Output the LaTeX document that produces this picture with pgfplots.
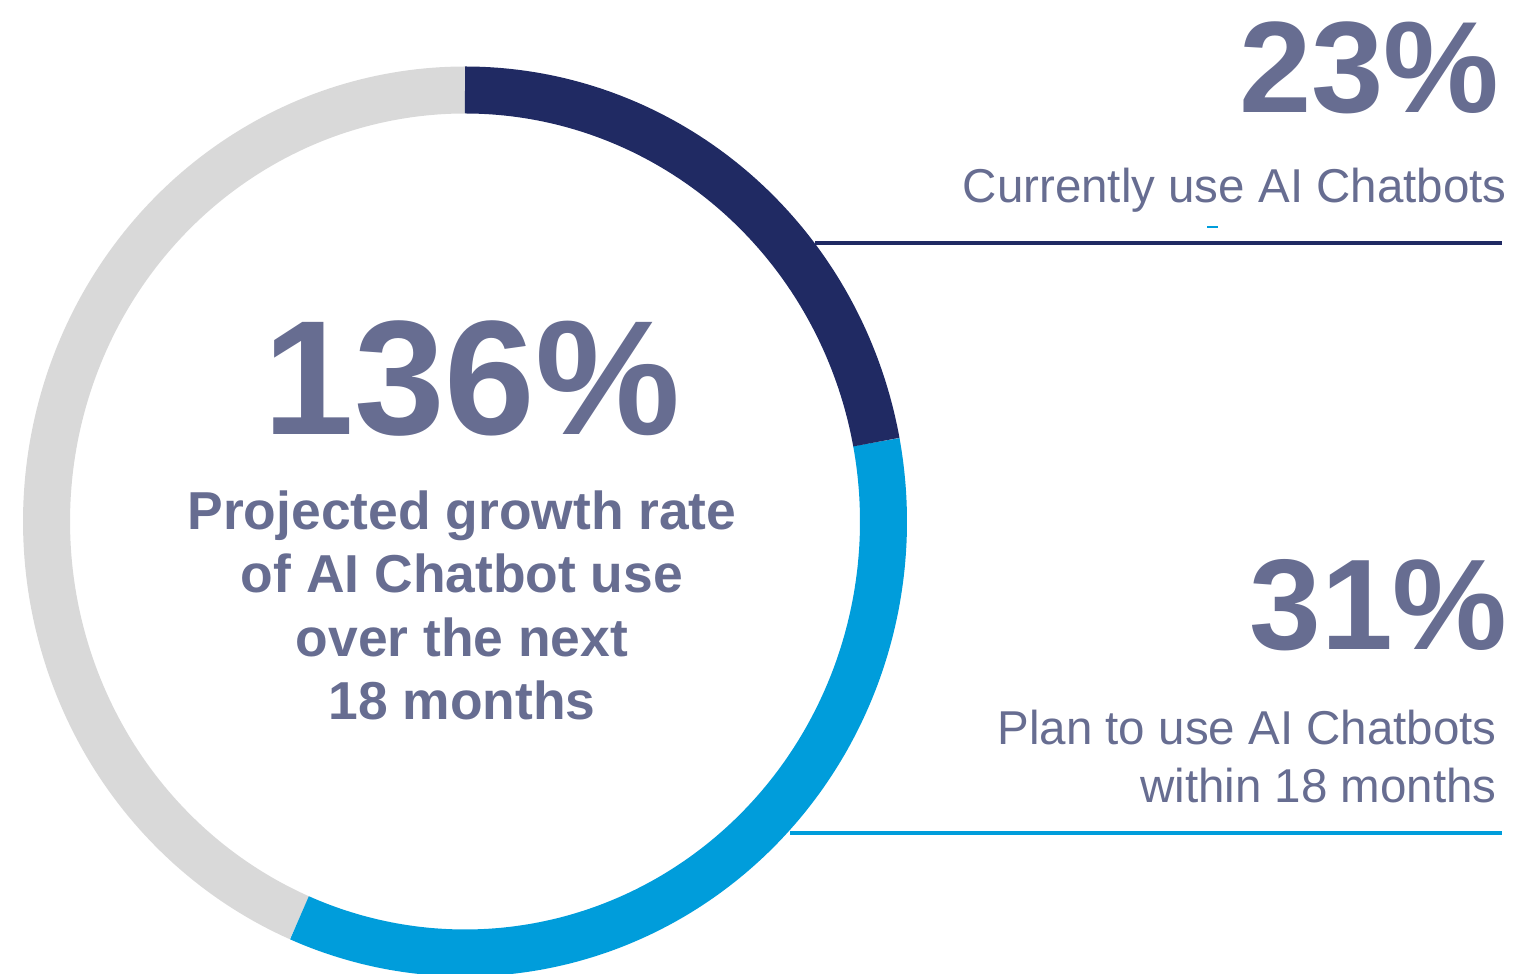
\documentclass[border=0pt]{standalone}
\usepackage{fontspec}
\setmainfont{Liberation Sans}
\usepackage{pgfplots}
\pgfplotsset{compat=1.18}
\definecolor{txt}{RGB}{103,109,145}
\definecolor{navy}{RGB}{32,42,99}
\definecolor{sky}{RGB}{0,157,219}
\definecolor{ringgray}{RGB}{217,217,217}
% position in reference pixels (x right, y down), 1 px = 0.5 pt
\newcommand{\px}[2]{({(#1)*0.5pt},{(973-(#2))*0.5pt})}
\begin{document}
\begin{tikzpicture}
\begin{scope}
\clip (0pt,0pt) rectangle (759pt,486.5pt);
% ring segments: start/end angles (deg, counter-clockwise from east)
% Currently use AI Chatbots: 90 -> 10.6 ; Plan to use: 10.6 -> -113.3 ; rest: -113.3 -> -270
% ring centre at pixel (465, 521.5) = (232.5pt, 225.75pt)
\begin{axis}[at={(232.5pt,225.75pt)}, anchor=origin, hide axis,
  x=209.25pt, y=215.75pt, xmin=-1.2, xmax=1.2, ymin=-1.2, ymax=1.2,
  clip=false, samples=150, variable=\t]
\addplot[ringgray, line width=23.5pt, domain=-113.3:-270] ({cos(t)},{sin(t)});
\addplot[sky, line width=23.5pt, domain=10.6:-113.3] ({cos(t)},{sin(t)});
\addplot[navy, line width=23.5pt, domain=90:10.6] ({cos(t)},{sin(t)});
\end{axis}
\end{scope}
% right-hand statistics
\node[anchor=base east, inner sep=0, text=txt, font=\fontsize{65pt}{78pt}\selectfont\bfseries] at \px{1500}{113} {23\%};
\node[anchor=base east, inner sep=0, text=txt, font=\fontsize{23.75pt}{29pt}\selectfont] at \px{1507}{203} {Currently use AI Chatbots};
\draw[navy, line width=1.75pt] \px{815}{243} -- \px{1502}{243};
\draw[sky, line width=1pt] \px{1207}{227} -- \px{1218}{227};
\node[anchor=base east, inner sep=0, text=txt, font=\fontsize{64.5pt}{78pt}\selectfont\bfseries] at \px{1508}{650} {31\%};
\node[anchor=base east, inner sep=0, text=txt, font=\fontsize{23.75pt}{29pt}\selectfont] at \px{1497}{745} {Plan to use AI Chatbots};
\node[anchor=base east, inner sep=0, text=txt, font=\fontsize{23.75pt}{29pt}\selectfont] at \px{1497}{803} {within 18 months};
\draw[sky, line width=2pt] \px{790}{833} -- \px{1502}{833};
% centre
\node[anchor=base, inner sep=0, text=txt, font=\fontsize{81.5pt}{98pt}\selectfont\bfseries] at \px{472}{435} {136\%};
\node[anchor=base, inner sep=0, text=txt, font=\fontsize{26.7pt}{32pt}\selectfont\bfseries] at \px{462}{530} {Projected growth rate};
\node[anchor=base, inner sep=0, text=txt, font=\fontsize{26.7pt}{32pt}\selectfont\bfseries] at \px{462}{593} {of AI Chatbot use};
\node[anchor=base, inner sep=0, text=txt, font=\fontsize{26.7pt}{32pt}\selectfont\bfseries] at \px{462}{657} {over the next};
\node[anchor=base, inner sep=0, text=txt, font=\fontsize{26.7pt}{32pt}\selectfont\bfseries] at \px{462}{720} {18 months};
\pgfresetboundingbox
\useasboundingbox (0pt,0pt) rectangle (759pt,486.5pt);
\end{tikzpicture}
\end{document}
